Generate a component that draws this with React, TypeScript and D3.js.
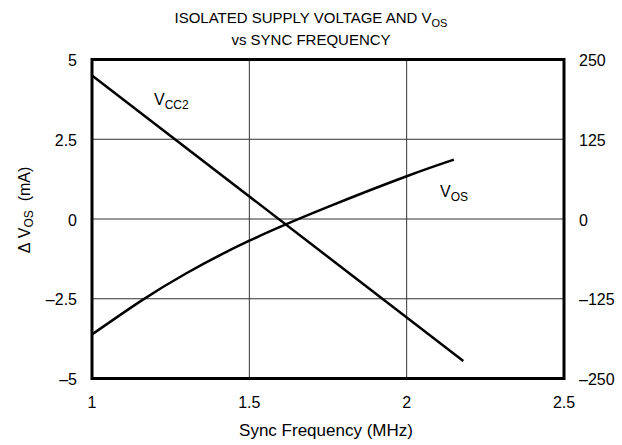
import * as d3 from "d3";

const freqTicks = [1, 1.5, 2, 2.5];
const leftTicks = [5, 2.5, 0, -2.5, -5];
const rightTicks = [250, 125, 0, -125, -250];

// V_CC2 (left axis, straight line)
const vcc2Freq = [1, 2.18];
const vcc2Val = [4.5, -4.45];

// V_OS (right axis)
const vosFreq = [1, 1.157, 1.3, 1.5, 1.75, 2, 2.15];
const vosVal = [-181, -128, -85, -34, 19, 67, 93];

const W = 622;
const H = 445;
const FONT = "'Liberation Sans', Arial, sans-serif";

const fmt = (v: number) => (v < 0 ? "\u2013" + Math.abs(v) : String(v));

export default function App() {
  const x = d3.scaleLinear().domain([1, 2.5]).range([92, 564]);
  const yL = d3.scaleLinear().domain([-5, 5]).range([378.5, 59.5]);
  const yR = d3.scaleLinear().domain([-250, 250]).range([378.5, 59.5]);

  const vccLine = d3
    .line<number>()
    .x((d) => x(d))
    .y((_, i) => yL(vcc2Val[i]))(vcc2Freq);

  const vosLine = d3
    .line<number>()
    .x((d) => x(d))
    .y((_, i) => yR(vosVal[i]))
    .curve(d3.curveNatural)(vosFreq);

  return (
    <svg
      width={W}
      height={H}
      style={{ position: "absolute", left: 0, top: 0, background: "#fff" }}
      fontFamily={FONT}
      fontSize={16}
    >
      {/* title */}
      <text x={311} y={23} textAnchor="middle" fontSize={15}>
        ISOLATED SUPPLY VOLTAGE AND V
        <tspan fontSize={11} dy={4}>OS</tspan>
      </text>
      <text x={311} y={45} textAnchor="middle" fontSize={15}>
        vs SYNC FREQUENCY
      </text>

      {/* grid */}
      {freqTicks.slice(1, -1).map((f) => (
        <line key={"gx" + f} x1={x(f)} x2={x(f)} y1={yL(5)} y2={yL(-5)} stroke="#333" strokeWidth={1} />
      ))}
      {leftTicks.slice(1, -1).map((v) => (
        <line key={"gy" + v} x1={x(1)} x2={x(2.5)} y1={yL(v)} y2={yL(v)} stroke="#333" strokeWidth={1} />
      ))}

      {/* data */}
      <path d={vccLine ?? ""} fill="none" stroke="#000" strokeWidth={2.5} />
      <path d={vosLine ?? ""} fill="none" stroke="#000" strokeWidth={2.5} />

      {/* frame */}
      <rect x={x(1)} y={yL(5)} width={x(2.5) - x(1)} height={yL(-5) - yL(5)} fill="none" stroke="#000" strokeWidth={3} />

      {/* left ticks */}
      {leftTicks.map((v) => (
        <text key={"l" + v} x={77} y={yL(v) + 6.5} textAnchor="end">
          {fmt(v)}
        </text>
      ))}
      {/* right ticks */}
      {rightTicks.map((v) => (
        <text key={"r" + v} x={579} y={yR(v) + 6.5} textAnchor="start">
          {fmt(v)}
        </text>
      ))}
      {/* bottom ticks */}
      {freqTicks.map((f) => (
        <text key={"b" + f} x={x(f)} y={408} textAnchor="middle">
          {f}
        </text>
      ))}

      {/* axis titles */}
      <text x={326} y={436} textAnchor="middle" fontSize={17}>
        Sync Frequency (MHz)
      </text>
      <text transform={`translate(30, 210) rotate(-90)`} textAnchor="middle">
        {"\u0394\u00a0V"}
        <tspan fontSize={12} dy={3}>OS</tspan>
        <tspan dy={-3}>{"\u00a0\u00a0(mA)"}</tspan>
      </text>

      {/* series labels */}
      <text x={154} y={105}>
        V<tspan fontSize={12} dy={4}>CC2</tspan>
      </text>
      <text x={440} y={197}>
        V<tspan fontSize={12} dy={4}>OS</tspan>
      </text>
    </svg>
  );
}
